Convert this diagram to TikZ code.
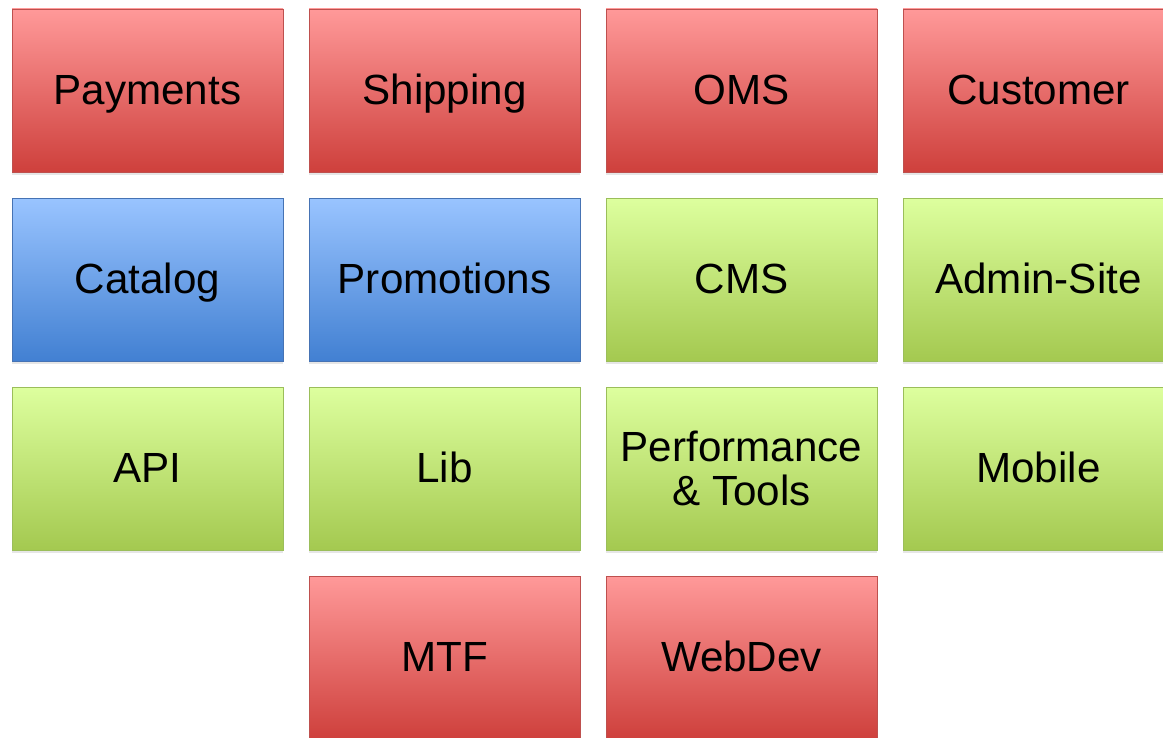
\documentclass[tikz,border=0pt]{standalone}
\usepackage{fontspec}
\setmainfont{Liberation Sans}
\usetikzlibrary{shadows}
\definecolor{redtop}{RGB}{255,153,153}
\definecolor{redbot}{RGB}{206,64,60}
\definecolor{redline}{RGB}{190,80,78}
\definecolor{bluetop}{RGB}{153,196,255}
\definecolor{bluebot}{RGB}{66,128,210}
\definecolor{blueline}{RGB}{70,115,180}
\definecolor{greentop}{RGB}{221,255,158}
\definecolor{greenbot}{RGB}{164,201,80}
\definecolor{greenline}{RGB}{155,190,90}
\tikzset{
	tile/.style={rectangle,minimum width=6.775cm,minimum height=4.075cm,
		line width=0.7pt,align=center,text=black,
		text height=21.5pt,text depth=2pt,
		font=\fontsize{30}{31}\selectfont,
		drop shadow={opacity=0.2,shadow xshift=0pt,shadow yshift=-2pt}},
	redbox/.style={tile,draw=redline,top color=redtop,bottom color=redbot},
	bluebox/.style={tile,draw=blueline,top color=bluetop,bottom color=bluebot},
	greenbox/.style={tile,draw=greenline,top color=greentop,bottom color=greenbot}
}
\begin{document}
\begin{tikzpicture}
	\useasboundingbox (0,0) rectangle (29.075,-18.45);
	% first row
	\node[redbox] (pay) at (3.6875,-2.2625) {Payments};
	\node[redbox] (ship) at (11.1125,-2.2625) {Shipping};
	\node[redbox] (oms) at (18.5375,-2.2625) {OMS};
	\node[redbox] (cust) at (25.9625,-2.2625) {Customer};
	% second row
	\node[bluebox] (cat) at (3.6875,-6.9875) {Catalog};
	\node[bluebox] (promo) at (11.1125,-6.9875) {Promotions};
	\node[greenbox] (cms) at (18.5375,-6.9875) {CMS};
	\node[greenbox] (admin) at (25.9625,-6.9875) {Admin-Site};
	% third row
	\node[greenbox] (api) at (3.6875,-11.7125) {API};
	\node[greenbox] (lib) at (11.1125,-11.7125) {Lib};
	\node[greenbox,text height=,text depth=] (perf) at (18.5375,-11.7125) {Performance\\\& Tools};
	\node[greenbox] (mob) at (25.9625,-11.7125) {Mobile};
	% last row
	\node[redbox] (mtf) at (11.1125,-16.4375) {MTF};
	\node[redbox] (web) at (18.5375,-16.4375) {WebDev};
\end{tikzpicture}
\end{document}
